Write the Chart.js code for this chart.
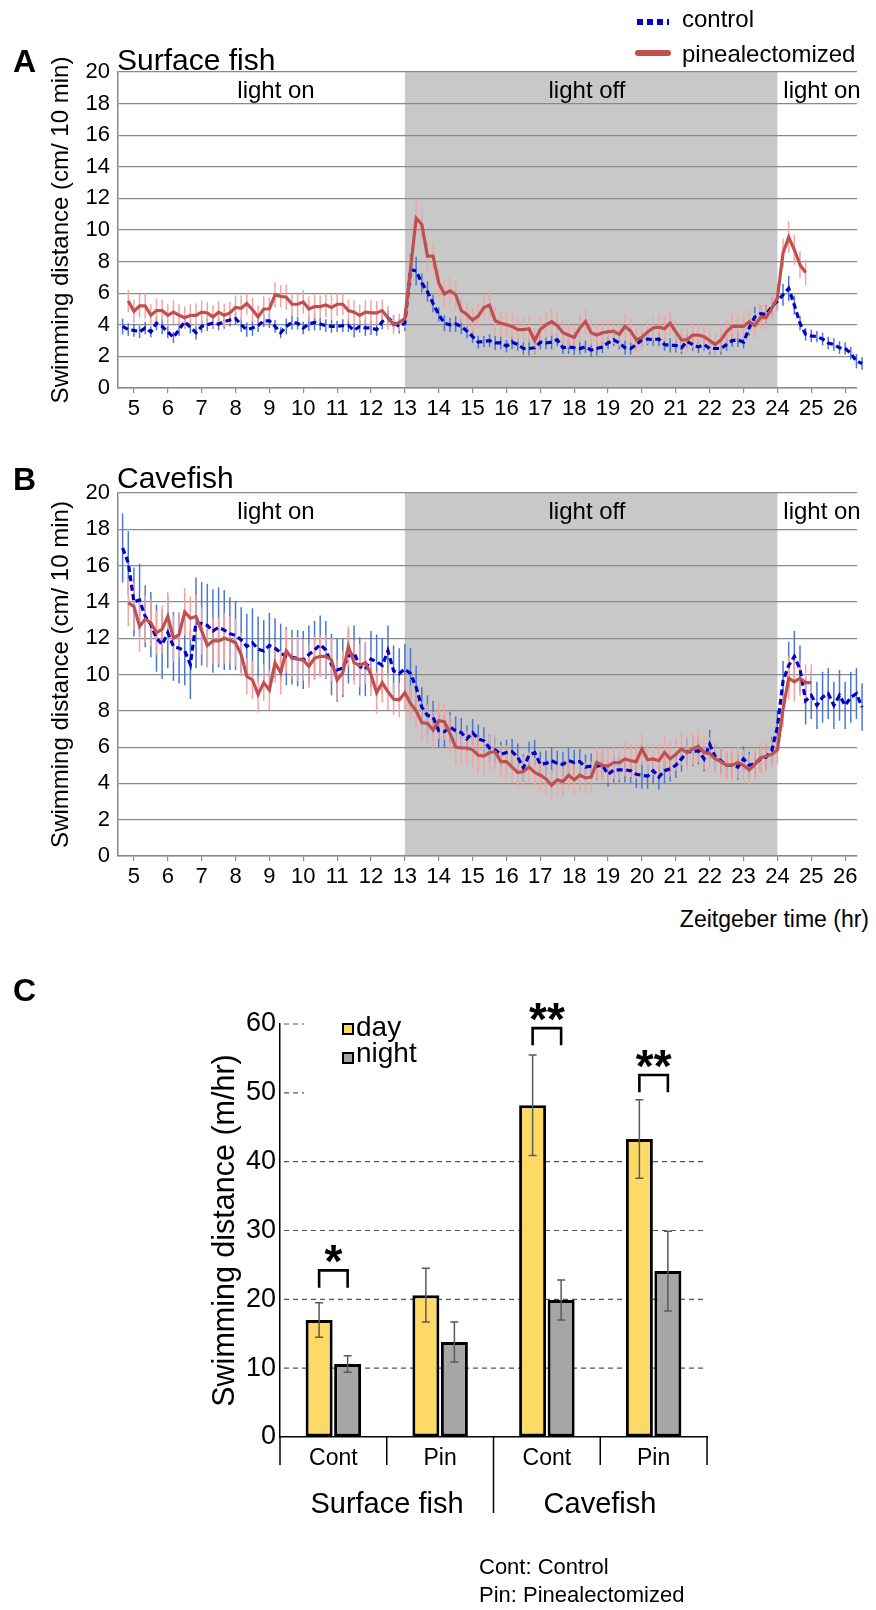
<!DOCTYPE html>
<html>
<head>
<meta charset="utf-8">
<script src="https://cdn.jsdelivr.net/npm/chart.js@4.4.1/dist/chart.umd.min.js"></script>
<style>
  body { margin: 0; background: #fff; }
  #page { position: relative; width: 876px; height: 1610px; overflow: hidden;
          font-family: "Liberation Sans", Arial, Helvetica, sans-serif; color: #000; }
  canvas { position: absolute; left: 0; }
  .t { position: absolute; white-space: nowrap; line-height: 1; }
</style>
</head>
<body>
<div id="page">
  <canvas id="chartA" width="876" height="440" style="top:0"></canvas>
  <canvas id="chartB" width="876" height="460" style="top:440px"></canvas>
  <canvas id="chartC" width="876" height="620" style="top:990px"></canvas>
</div>
<script>
// ---- time course data: 10 min bins, one row per hour (first row starts part way into hour 4) ----
const binHours = 1 / 6;
const controlStart = 4 + 40 / 60;   // first control bin
const pinxStart = 4 + 50 / 60;      // first pinealectomized bin
const lightsOff = 13;
const lightsOn = 24;

// A: surface fish
const surfaceControl = [
  3.9, 3.7,
  3.65, 3.55, 3.8, 3.55, 4.1, 3.9,
  3.55, 3.2, 3.7, 4.2, 3.85, 3.5,
  3.9, 4.0, 4.1, 4.05, 4.2, 4.3,
  4.4, 4.0, 3.7, 3.8, 3.95, 4.25,
  4.25, 3.9, 3.5, 3.9, 4.15, 4.1,
  3.8, 4.05, 4.15, 4.05, 3.95, 3.9,
  3.9, 3.95, 3.95, 3.65, 3.9, 3.8,
  3.8, 3.7, 4.2, 4.45, 4.15, 3.9,
  4.1, 7.5, 7.4, 6.65, 6.1, 5.35,
  4.65, 4.1, 4.0, 4.05, 3.9, 3.6,
  3.25, 2.9, 2.95, 3.0, 2.85, 2.85,
  2.65, 2.9, 2.75, 2.5, 2.5, 2.55,
  2.9, 2.85, 2.9, 3.05, 2.55, 2.6,
  2.55, 2.5, 2.6, 2.4, 2.5, 2.6,
  2.85, 3.05, 2.85, 2.55, 2.5, 2.75,
  3.05, 3.1, 3.05, 3.1, 2.75, 2.7,
  2.7, 2.55, 2.95, 2.75, 2.6, 2.75,
  2.5, 2.5, 2.5, 2.75, 3.0, 3.05,
  2.9, 3.8, 4.5, 4.7, 4.65, 5.15,
  5.5, 5.9, 6.3, 5.25, 4.1, 3.4,
  3.3, 3.25, 3.1, 2.85, 2.75, 2.55,
  2.5, 2.2, 1.7, 1.55
];
const surfaceControlSem = [
  .5, .4,
  .4, .4, .4, .35, .45, .5,
  .4, .35, .4, .45, .4, .45,
  .4, .4, .35, .4, .45, .4,
  .4, .45, .45, .5, .4, .4,
  .45, .4, .35, .5, .45, .4,
  .4, .45, .5, .4, .4, .4,
  .35, .4, .4, .45, .4, .5,
  .45, .4, .5, .45, .45, .45,
  .5, 1.0, .9, .6, .65, .55,
  .45, .5, .45, .5, .5, .45,
  .4, .4, .35, .4, .45, .4,
  .4, .45, .4, .4, .45, .4,
  .45, .4, .45, .4, .4, .45,
  .45, .4, .4, .4, .45, .4,
  .4, .4, .4, .45, .4, .4,
  .4, .4, .4, .45, .4, .45,
  .45, .4, .4, .4, .4, .4,
  .4, .4, .4, .4, .4, .45,
  .4, .5, .65, .55, .6, .6,
  .55, .7, .8, .6, .45, .4,
  .4, .35, .4, .4, .4, .4,
  .4, .4, .45, .4
];
const surfacePinx = [
  5.5,
  4.85, 5.2, 5.2, 4.6, 4.9, 4.9,
  4.6, 4.8, 4.6, 4.45, 4.6, 4.6,
  4.8, 4.75, 4.5, 4.8, 4.6, 4.75,
  5.1, 5.05, 5.35, 4.95, 4.5, 5.0,
  5.0, 5.9, 5.8, 5.75, 5.3, 5.3,
  5.45, 5.0, 5.15, 5.15, 5.25, 5.1,
  5.3, 5.3, 4.9, 4.8, 4.6, 4.8,
  4.75, 4.75, 4.9, 4.45, 4.0, 4.15,
  4.4, 7.5, 10.75, 10.35, 8.35, 8.35,
  6.65, 5.95, 6.15, 5.9, 4.9, 4.65,
  4.3, 4.55, 5.1, 5.25, 4.25, 4.1,
  4.0, 3.9, 3.7, 3.7, 3.75, 3.0,
  3.7, 4.0, 4.2, 3.95, 3.5, 3.35,
  3.2, 3.8, 4.2, 3.5, 3.35, 3.5,
  3.55, 3.6, 3.4, 3.9, 3.6, 3.05,
  3.2, 3.55, 3.8, 3.85, 3.75, 4.1,
  3.55, 3.05, 3.05, 3.35, 3.35, 3.25,
  3.0, 2.75, 3.05, 3.55, 3.9, 3.9,
  3.9, 4.2, 3.95, 4.45, 4.45, 5.05,
  5.7, 8.55, 9.55, 8.75, 7.8, 7.3
];
const surfacePinxSem = [
  .7,
  .75, .75, .8, .7, .75, .7,
  .7, .75, .7, .7, .7, .75,
  .75, .7, .75, .7, .75, .7,
  .75, .8, .7, .75, .7, .8,
  .75, .8, .7, .8, .75, .75,
  .75, .8, .75, .7, .75, .8,
  .75, .7, .7, .75, .7, .75,
  .8, .75, .7, .75, .6, .55,
  .6, .9, 1.1, .95, .9, .9,
  .9, .85, .9, .85, .8, .8,
  .8, .8, .85, .9, .85, .8,
  .8, .8, .75, .8, .85, .8,
  .85, .8, .9, .85, .8, .75,
  .8, .85, .8, .8, .8, .8,
  .75, .8, .8, .8, .75, .8,
  .8, .75, .75, .8, .8, .8,
  .8, .75, .75, .8, .75, .75,
  .7, .7, .75, .8, .8, .75,
  .8, .75, .8, .8, .75, .8,
  .85, .9, 1.0, .95, .85, .8
];

// B: cavefish
const caveControl = [
  16.97, 16.15,
  14.0, 14.1, 13.2, 12.75, 12.0, 11.65,
  12.3, 11.55, 11.45, 11.3, 10.55, 12.85,
  12.8, 12.7, 12.4, 12.6, 12.45, 12.25,
  12.15, 11.9, 11.55, 11.75, 11.4, 11.3,
  11.6, 11.45, 11.2, 11.0, 10.95, 10.9,
  10.8, 11.1, 11.35, 11.65, 11.35, 10.55,
  10.25, 10.35, 11.0, 11.2, 10.45, 10.3,
  10.85, 10.7, 10.5, 11.3, 10.2, 10.05,
  10.3, 10.05, 9.3, 8.2, 7.75, 7.65,
  6.9, 6.85, 7.1, 6.9, 6.8, 6.45,
  6.8, 6.45, 6.35, 5.95, 5.85, 5.6,
  5.7, 5.75, 5.45, 4.85, 5.55, 5.7,
  5.05, 5.1, 5.25, 5.1, 5.05, 5.25,
  5.15, 5.2, 4.9, 4.95, 4.95, 5.0,
  4.5, 4.75, 4.75, 4.75, 4.7, 4.5,
  4.45, 4.4, 4.7, 4.35, 4.7, 4.8,
  5.0, 5.35, 5.75, 5.75, 5.8, 5.35,
  6.15, 5.45, 5.25, 5.0, 5.0, 4.9,
  5.35, 5.0, 5.1, 5.35, 5.45, 5.8,
  7.1, 9.65, 10.5, 11.0, 10.3, 8.55,
  8.85, 8.3, 8.75, 8.95, 8.3, 8.85,
  8.3, 8.75, 8.95, 8.2
];
const caveControlSem = [
  1.9, 1.75,
  1.9, 2.0, 1.7, 1.8, 1.85, 1.9,
  1.95, 1.9, 1.95, 1.9, 1.9, 2.5,
  2.3, 2.3, 2.3, 2.2, 2.2, 2.0,
  1.9, 1.8, 1.8, 1.9, 1.8, 1.7,
  1.8, 1.65, 1.6, 1.6, 1.5, 1.55,
  1.6, 1.6, 1.6, 1.6, 1.6, 1.7,
  1.75, 1.6, 1.5, 1.5, 1.6, 1.5,
  1.55, 1.5, 1.5, 1.4, 1.4, 1.4,
  1.4, 1.4, 1.2, 1.1, 1.1, 0.9,
  0.9, 0.85, 0.85, 0.8, 0.8, 0.75,
  0.75, 0.8, 0.75, 0.75, 0.7, 0.7,
  0.7, 0.7, 0.75, 0.75, 0.75, 0.7,
  0.7, 0.7, 0.75, 0.7, 0.7, 0.7,
  0.7, 0.7, 0.7, 0.7, 0.75, 0.7,
  0.7, 0.7, 0.7, 0.7, 0.7, 0.75,
  0.75, 0.7, 0.75, 0.7, 0.7, 0.7,
  0.7, 0.7, 0.75, 0.8, 0.75, 0.7,
  0.8, 0.75, 0.7, 0.7, 0.7, 0.7,
  0.7, 0.75, 0.7, 0.75, 0.7, 0.75,
  0.9, 1.1, 1.3, 1.4, 1.3, 1.3,
  1.3, 1.3, 1.4, 1.4, 1.3, 1.4,
  1.3, 1.4, 1.4, 1.3
];
const cavePinx = [
  13.95,
  13.75, 12.65, 13.05, 12.85, 12.3, 12.5,
  13.2, 12.0, 12.2, 13.45, 13.1, 13.2,
  12.4, 11.6, 11.85, 11.85, 12.0, 11.9,
  11.75, 11.1, 9.9, 9.7, 8.9, 9.55,
  9.15, 10.65, 10.1, 11.3, 10.9, 10.85,
  10.8, 10.45, 10.9, 11.0, 11.0, 10.8,
  9.7, 10.1, 11.55, 10.65, 10.5, 10.65,
  10.0, 9.0, 9.55, 9.05, 8.65, 8.6,
  9.0, 8.4, 8.0, 7.35, 7.3, 6.95,
  7.45, 7.4, 6.75, 6.0, 5.95, 5.95,
  5.85, 5.55, 5.5, 5.7, 5.75, 5.2,
  5.2, 4.9, 4.6, 4.65, 4.9, 4.6,
  4.45, 4.25, 3.9, 4.2, 4.1, 4.45,
  4.2, 4.45, 4.3, 4.35, 5.15, 5.0,
  4.95, 5.15, 5.15, 5.35, 5.25, 5.2,
  5.9, 5.3, 5.35, 5.25, 5.7, 5.35,
  5.6, 5.9, 5.7, 5.9, 6.05, 5.7,
  5.65, 5.35, 5.2, 5.0, 5.0, 5.15,
  5.0, 4.75, 5.05, 5.4, 5.5, 5.6,
  5.85, 8.1, 9.8, 9.6, 9.8, 9.55,
  9.55
];
const cavePinxSem = [
  1.3,
  1.3, 1.4, 1.3, 1.3, 1.2, 1.3,
  1.35, 1.3, 1.25, 1.3, 1.2, 1.2,
  1.3, 1.2, 1.3, 1.3, 1.4, 1.3,
  1.3, 1.2, 1.0, 1.05, 1.0, 1.0,
  1.1, 1.1, 1.2, 1.2, 1.15, 1.2,
  1.15, 1.2, 1.2, 1.15, 1.2, 1.2,
  1.1, 1.2, 1.1, 1.2, 1.2, 1.15,
  1.2, 1.15, 1.1, 1.0, 0.9, 0.95,
  1.0, 1.0, 1.0, 1.0, 1.05, 1.0,
  1.0, 1.0, 1.0, 1.0, 0.95, 0.95,
  1.0, 1.0, 1.0, 1.0, 0.95, 0.9,
  0.9, 0.85, 0.85, 0.85, 0.85, 0.8,
  0.85, 0.85, 0.85, 0.8, 0.8, 0.8,
  0.85, 0.85, 0.85, 0.85, 0.9, 0.9,
  0.9, 0.9, 0.95, 0.95, 0.9, 0.95,
  0.9, 0.95, 0.9, 0.9, 0.9, 0.95,
  0.9, 0.9, 0.95, 0.9, 0.9, 0.9,
  0.9, 0.9, 0.85, 0.85, 0.85, 0.85,
  0.85, 0.85, 0.85, 0.85, 0.85, 0.8,
  0.8, 1.0, 1.2, 1.1, 1.0, 1.0,
  1.0
];

// C: swimming distance per hour (m/hr)
const treatmentLabels = ['Cont', 'Pin', 'Cont', 'Pin'];
const fishGroups = ['Surface fish', 'Cavefish'];
const groupSizes = [2, 2];
const dayMeans = [17.0, 20.6, 48.2, 43.3];
const daySem = [2.5, 3.9, 7.3, 5.7];
const nightMeans = [10.6, 13.8, 19.9, 24.1];
const nightSem = [1.2, 2.9, 2.9, 5.8];
const sigIndex = [0, 2, 3];
const sigMarks = ['*', '**', '**'];
const sigLevel = [21.7, 56.9, 50.1];

// ---- chart setup ----
Chart.defaults.font.family = '"Liberation Sans", Arial, Helvetica, sans-serif';
Chart.defaults.color = '#000';

const GRID = '#8a8a8a';

function toPoints(start, values) {
  return values.map((v, i) => ({x: start + i * binHours, y: v}));
}

const lightPhase = {
  id: 'lightPhase',
  beforeDraw(chart) {
    const {ctx, chartArea: a, scales: {x}} = chart;
    const x0 = x.getPixelForValue(lightsOff);
    const x1 = x.getPixelForValue(lightsOn);
    ctx.save();
    ctx.fillStyle = '#c8c8c8';
    ctx.fillRect(x0, a.top, x1 - x0, a.bottom - a.top);
    ctx.restore();
  }
};

const errorLines = {
  id: 'errorLines',
  beforeDatasetsDraw(chart) {
    const {ctx, scales: {x, y}} = chart;
    ctx.save();
    ctx.lineWidth = 1.5;
    for (let d = chart.data.datasets.length - 1; d >= 0; d--) {
      const ds = chart.data.datasets[d];
      ctx.strokeStyle = ds.errorColor;
      ds.data.forEach((p, i) => {
        const px = x.getPixelForValue(p.x);
        ctx.beginPath();
        ctx.moveTo(px, y.getPixelForValue(p.y - ds.errors[i]));
        ctx.lineTo(px, y.getPixelForValue(p.y + ds.errors[i]));
        ctx.stroke();
      });
    }
    ctx.restore();
  }
};

function timeChart(id, control, controlSem, pinx, pinxSem, padTop, xHeight) {
  return new Chart(document.getElementById(id), {
    type: 'line',
    data: {
      datasets: [
        {label: 'pinealectomized', data: toPoints(pinxStart, pinx), errors: pinxSem,
         errorColor: '#f4a3a3', borderColor: '#c0504d', borderWidth: 3.2,
         pointRadius: 0, clip: 8},
        {label: 'control', data: toPoints(controlStart, control), errors: controlSem,
         errorColor: '#4a78d0', borderColor: '#0000c8', borderWidth: 3.2, borderDash: [6, 3.5],
         pointRadius: 0, clip: 8}
      ]
    },
    options: {
      responsive: false,
      animation: false,
      events: [],
      layout: {padding: {left: 0, top: padTop, right: 19, bottom: 0}},
      plugins: {legend: {display: false}, tooltip: {enabled: false}},
      scales: {
        x: {
          type: 'linear', min: 4.53, max: 26.35,
          afterFit: s => { s.height = xHeight; },
          ticks: {stepSize: 1, includeBounds: false, autoSkip: false, maxRotation: 0,
                  font: {size: 22}, padding: 3},
          grid: {drawOnChartArea: false, drawTicks: true, tickLength: 5, color: GRID, lineWidth: 1.2},
          border: {color: GRID, width: 1.5}
        },
        y: {
          min: 0, max: 20,
          afterFit: s => { s.width = 118; },
          ticks: {stepSize: 2, font: {size: 22}, padding: 8},
          grid: {color: GRID, lineWidth: 1.2, drawTicks: false},
          border: {color: GRID, width: 1.5},
          title: {display: true, text: 'Swimming distance (cm/ 10 min)',
                  font: {size: 24}, padding: {top: 47}}
        }
      }
    },
    plugins: [lightPhase, errorLines]
  });
}

timeChart('chartA', surfaceControl, surfaceControlSem, surfacePinx, surfacePinxSem, 72, 52);
timeChart('chartB', caveControl, caveControlSem, cavePinx, cavePinxSem, 53, 44);

// panel C helpers
const dashedGrid = {
  id: 'dashedGrid',
  beforeDatasetsDraw(chart) {
    const {ctx, chartArea: a, scales: {y}} = chart;
    ctx.save();
    ctx.strokeStyle = '#555';
    ctx.lineWidth = 1.2;
    ctx.setLineDash([5, 4]);
    y.ticks.forEach(t => {
      if (t.value === 0) return;
      const py = y.getPixelForValue(t.value);
      const xEnd = t.value <= 40 ? a.right : a.left + 24;
      ctx.beginPath();
      ctx.moveTo(a.left + 4, py);
      ctx.lineTo(xEnd, py);
      ctx.stroke();
    });
    ctx.restore();
  }
};

const barErrors = {
  id: 'barErrors',
  afterDatasetsDraw(chart) {
    const {ctx, scales: {y}} = chart;
    ctx.save();
    ctx.strokeStyle = '#5a5a5a';
    ctx.lineWidth = 1.5;
    chart.data.datasets.forEach((ds, d) => {
      chart.getDatasetMeta(d).data.forEach((bar, i) => {
        const top = y.getPixelForValue(ds.data[i] + ds.errors[i]);
        const bot = y.getPixelForValue(ds.data[i] - ds.errors[i]);
        ctx.beginPath();
        ctx.moveTo(bar.x, top); ctx.lineTo(bar.x, bot);
        ctx.moveTo(bar.x - 4, top); ctx.lineTo(bar.x + 4, top);
        ctx.moveTo(bar.x - 4, bot); ctx.lineTo(bar.x + 4, bot);
        ctx.stroke();
      });
    });
    // significance brackets
    const day = chart.getDatasetMeta(0).data;
    const night = chart.getDatasetMeta(1).data;
    ctx.strokeStyle = '#000';
    ctx.lineWidth = 2.6;
    ctx.fillStyle = '#000';
    ctx.font = 'bold 46px "Liberation Sans", Arial, sans-serif';
    ctx.textAlign = 'center';
    ctx.textBaseline = 'alphabetic';
    sigIndex.forEach((g, k) => {
      const xl = day[g].x, xr = night[g].x;
      const yb = y.getPixelForValue(sigLevel[k]);
      const yt = y.getPixelForValue(sigLevel[k] + 2.5);
      ctx.beginPath();
      ctx.moveTo(xl, yb); ctx.lineTo(xl, yt); ctx.lineTo(xr, yt); ctx.lineTo(xr, yb);
      ctx.stroke();
      ctx.fillText(sigMarks[k], (xl + xr) / 2, yt + 7);
    });
    ctx.restore();
  }
};

const groupDividers = {
  id: 'groupDividers',
  afterDraw(chart) {
    const {ctx, chartArea: a, scales: {x}} = chart;
    const n = treatmentLabels.length;
    const half = (x.getPixelForValue(1) - x.getPixelForValue(0)) / 2;
    const breaks = [];
    groupSizes.reduce((acc, s) => { breaks.push(acc + s); return acc + s; }, 0);
    ctx.save();
    ctx.strokeStyle = '#000';
    ctx.lineWidth = 1.5;
    for (let i = 0; i <= n; i++) {
      const px = i === n ? x.getPixelForValue(n - 1) + half : x.getPixelForValue(i) - half;
      const len = (i > 0 && i < n && breaks.includes(i)) ? 76 : 28;
      ctx.beginPath();
      ctx.moveTo(px, a.bottom);
      ctx.lineTo(px, a.bottom + len);
      ctx.stroke();
    }
    ctx.restore();
  }
};

new Chart(document.getElementById('chartC'), {
  type: 'bar',
  data: {
    labels: treatmentLabels,
    datasets: [
      {label: 'day', data: dayMeans, errors: daySem, backgroundColor: '#ffd966',
       borderColor: '#000', borderWidth: 3, borderSkipped: false,
       categoryPercentage: 0.534, barPercentage: 0.947},
      {label: 'night', data: nightMeans, errors: nightSem, backgroundColor: '#a6a6a6',
       borderColor: '#000', borderWidth: 3, borderSkipped: false,
       categoryPercentage: 0.534, barPercentage: 0.947}
    ]
  },
  options: {
    responsive: false,
    animation: false,
    events: [],
    layout: {padding: {left: 0, top: 34, right: 169, bottom: 0}},
    plugins: {legend: {display: false}, tooltip: {enabled: false}},
    scales: {
      x: {
        afterFit: s => { s.height = 173; },
        ticks: {font: {size: 23}, padding: 8},
        grid: {display: true, drawOnChartArea: false, drawTicks: false},
        border: {color: '#000', width: 1.5}
      },
      y: {
        min: 0, max: 60,
        afterFit: s => { s.width = 280; },
        ticks: {stepSize: 10, font: {size: 27}, padding: 4},
        grid: {display: true, drawOnChartArea: false, drawTicks: false},
        border: {color: '#000', width: 1.5},
        title: {display: true, text: 'Swimming distance (m/hr)', font: {size: 30.5}, padding: {top: 207}}
      }
    }
  },
  plugins: [dashedGrid, barErrors, groupDividers]
});

// ---- text labels ----
const page = document.getElementById('page');
function addText(txt, x, base, size, align, weight) {
  const d = document.createElement('div');
  d.className = 't';
  d.textContent = txt;
  d.style.fontSize = size + 'px';
  d.style.top = (base - 0.8465 * size) + 'px';
  if (weight) d.style.fontWeight = weight;
  if (align === 'center') { d.style.left = x + 'px'; d.style.transform = 'translateX(-50%)'; }
  else if (align === 'right') { d.style.right = (876 - x) + 'px'; }
  else d.style.left = x + 'px';
  page.appendChild(d);
}
function addBox(x, y, w, h, style) {
  const d = document.createElement('div');
  d.style.position = 'absolute';
  d.style.left = x + 'px'; d.style.top = y + 'px';
  d.style.width = w + 'px'; d.style.height = h + 'px';
  Object.assign(d.style, style);
  page.appendChild(d);
}

addText('A', 13, 72, 32, 'left', 'bold');
addText('Surface fish', 117, 70, 30);
addText('light on', 276, 98, 24, 'center');
addText('light off', 587, 98, 24, 'center');
addText('light on', 822, 98, 24, 'center');
addBox(637, 19, 32, 6, {background: 'repeating-linear-gradient(to right, #0000c8 0 6px, transparent 6px 10px)'});
addText('control', 682, 27, 24);
addBox(635, 49.5, 36, 6, {background: '#c0504d', borderRadius: '3px'});
addText('pinealectomized', 682, 62, 24);

addText('B', 13, 490, 32, 'left', 'bold');
addText('Cavefish', 117, 488, 30);
addText('light on', 276, 519, 24, 'center');
addText('light off', 587, 519, 24, 'center');
addText('light on', 822, 519, 24, 'center');
addText('Zeitgeber time (hr)', 869, 927, 23, 'right');

addText('C', 13, 1001, 32, 'left', 'bold');
addBox(342, 1023, 12, 12, {background: '#ffd966', border: '2px solid #000', boxSizing: 'border-box'});
addText('day', 356, 1037, 28);
addBox(342, 1052, 12, 12, {background: '#a6a6a6', border: '2px solid #000', boxSizing: 'border-box'});
addText('night', 356, 1063, 28);
addText(fishGroups[0], 387, 1514, 29, 'center');
addText(fishGroups[1], 600, 1514, 29, 'center');
addText('Cont: Control', 479, 1575, 22);
addText('Pin: Pinealectomized', 479, 1603, 22);
</script>
</body>
</html>
